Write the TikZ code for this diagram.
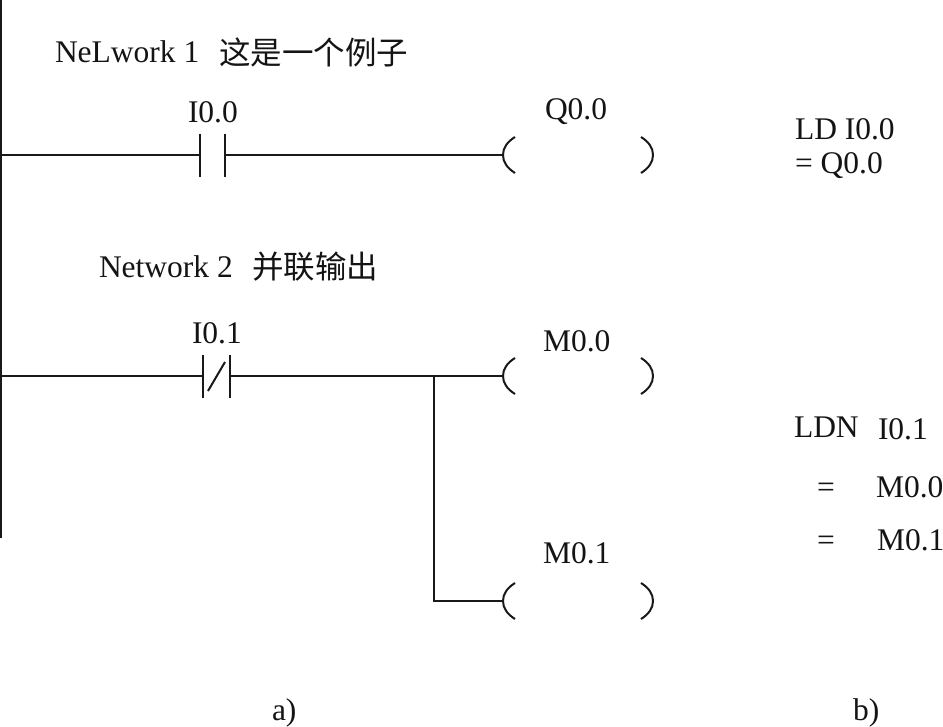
\documentclass[tikz,border=0pt]{standalone}
\usepackage{fontspec}
\setmainfont{Liberation Serif}
\newfontfamily\cjkfont{Noto Sans CJK SC}
\tikzset{
  x=1pt,y=-1pt,
  lbl/.style={anchor=base west,inner sep=0pt,outer sep=0pt,font=\fontsize{31.5}{36}\selectfont,text=black!92},
  cjk/.style={anchor=base west,inner sep=0pt,outer sep=0pt,font=\fontsize{31.5}{36}\selectfont\cjkfont,text=black!92},
  wire/.style={line width=2.2pt,draw=black!90},
  contact/.style={line width=2pt,draw=black!90},
  paren/.style={line width=2pt,draw=black!90}
}
\begin{document}
\begin{tikzpicture}
\useasboundingbox[fill=white] (0,0) rectangle (943,727);
% named coordinates
\coordinate (railTop) at (1,0);
\coordinate (railBot) at (1,538);
\coordinate (r1) at (1,155);
\coordinate (r2) at (1,376);
\coordinate (c1l) at (200,155);
\coordinate (c1r) at (225,155);
\coordinate (c2l) at (203,376);
\coordinate (c2r) at (230,376);
\coordinate (q) at (503,155);
\coordinate (m0) at (503,376);
\coordinate (m1) at (503,601);
\coordinate (br) at (434,376);
\coordinate (brc) at (434,601);
% rungs
\draw[wire] (railTop) -- (railBot);
\draw[wire] (r1) -- (c1l);
\draw[wire] (c1r) -- (q);
\draw[wire] (r2) -- (c2l);
\draw[wire] (c2r) -- (m0);
\draw[wire] (br) -- (brc) -- (m1);
% contacts
\draw[contact] ([yshift=21pt]c1l) -- ([yshift=-22pt]c1l);
\draw[contact] ([yshift=21pt]c1r) -- ([yshift=-22pt]c1r);
\draw[contact] ([yshift=21pt]c2l) -- ([yshift=-22pt]c2l);
\draw[contact] ([yshift=21pt]c2r) -- ([yshift=-22pt]c2r);
\draw[contact] (208,391) -- (225,362);
% coils
\foreach \c in {q,m0,m1}{
  \draw[paren] ([shift={(12,-18)}]\c) .. controls ([shift={(4,-13)}]\c) and ([shift={(0,-7)}]\c) .. (\c)
     .. controls ([shift={(0,7)}]\c) and ([shift={(4,13)}]\c) .. ([shift={(12,18)}]\c);
  \draw[paren] ([shift={(138,-18)}]\c) .. controls ([shift={(146,-13)}]\c) and ([shift={(150,-7)}]\c) .. ([shift={(150,0)}]\c)
     .. controls ([shift={(150,7)}]\c) and ([shift={(146,13)}]\c) .. ([shift={(138,18)}]\c);
}
% labels
\node[lbl] (n1) at (55,63) {NeLwork 1};
\node[cjk] (n1c) at (219,65) {这是一个例子};
\node[lbl] (i00) at (188,123) {I0.0};
\node[lbl] (q00) at (545,120) {Q0.0};
\node[lbl] (il1) at (795,140) {LD I0.0};
\node[lbl] (il2) at (795,174) {= Q0.0};
\node[lbl] (n2) at (99,278) {Network 2};
\node[cjk] (n2c) at (252,279) {并联输出};
\node[lbl] (i01) at (192,344) {I0.1};
\node[lbl] (m00) at (543,352) {M0.0};
\node[lbl] (m01) at (543,563) {M0.1};
\node[lbl] (il3) at (794,438) {LDN};
\node[lbl] (il4) at (878,439) {I0.1};
\node[lbl] (il5) at (817,497) {=};
\node[lbl] (il6) at (876,497) {M0.0};
\node[lbl] (il7) at (817,550) {=};
\node[lbl] (il8) at (877,550) {M0.1};
\node[lbl] (capa) at (272,720) {a)};
\node[lbl] (capb) at (853,720) {b)};
\end{tikzpicture}
\end{document}
